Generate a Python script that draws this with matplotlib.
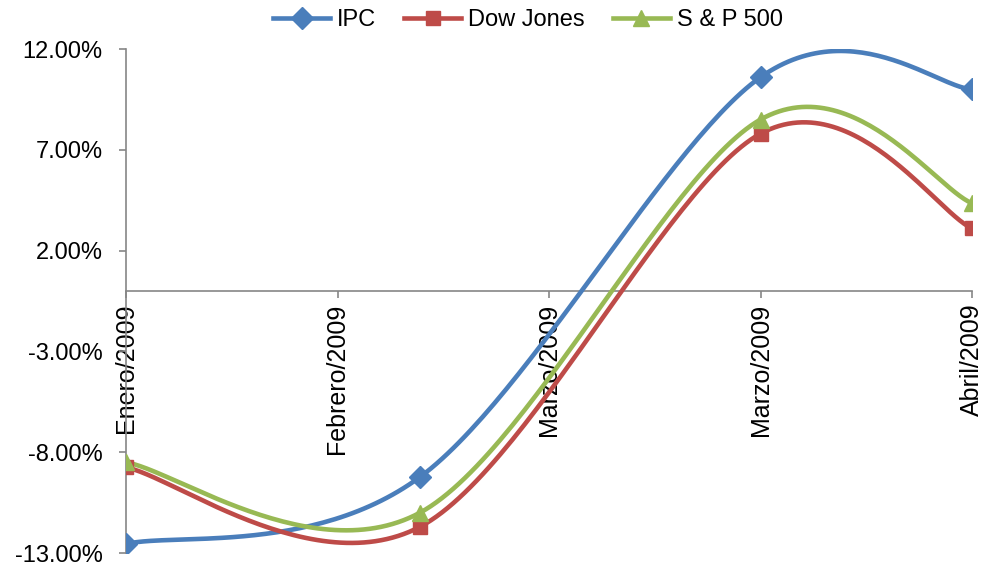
import matplotlib.pyplot as plt
import numpy as np

plt.rcParams['font.family'] = ['Liberation Sans', 'DejaVu Sans']

# category labels on the x axis
labels = ['Enero/2009', 'Febrero/2009', 'Marzo/2009', 'Marzo/2009', 'Abril/2009']

# x values of the data points (in category units), and the three series (%)
x_pts = [0, 1.39, 3, 4]
ipc = [-12.55, -9.23, 10.6, 10.0]
dow = [-8.75, -11.7, 7.8, 3.1]
sp500 = [-8.5, -11.0, 8.5, 4.35]


def smooth(xs, ys, n=60):
    # excel-like bezier smoothing
    p = np.column_stack([xs, ys]).astype(float)
    p = np.vstack([p[0], p, p[-1]])
    out = []
    t = np.linspace(0, 1, n)[:, None]
    for i in range(1, len(p) - 2):
        a, b = p[i], p[i + 1]
        c1 = a + (b - p[i - 1]) / 6
        c2 = b - (p[i + 2] - a) / 6
        seg = (1 - t) ** 3 * a + 3 * (1 - t) ** 2 * t * c1 + 3 * (1 - t) * t ** 2 * c2 + t ** 3 * b
        out.append(seg)
    out = np.vstack(out)
    return out[:, 0], out[:, 1]


fig = plt.figure(figsize=(10.05, 5.68), dpi=100)
ax = fig.add_axes([126 / 1005, 1 - 553 / 568, 846 / 1005, 504 / 568])

# spine position first: moving it resets the ticks
for s in ['top', 'right']:
    ax.spines[s].set_visible(False)
ax.spines['bottom'].set_position(('data', 0))
for s in ['left', 'bottom']:
    ax.spines[s].set_color('#868686')
    ax.spines[s].set_linewidth(1.2)

series = [('IPC', ipc, '#4A7EBB', 'D', 11),
          ('Dow Jones', dow, '#BE4B48', 's', 10.5),
          ('S & P 500', sp500, '#98B954', '^', 12)]
for name, vals, col, mk, ms in series:
    sx, sy = smooth(x_pts, vals)
    ax.plot(sx, sy, color=col, lw=3.3, zorder=3, solid_capstyle='round')
    ax.plot(x_pts, vals, linestyle='none', marker=mk, ms=ms, color=col, zorder=4)
    ax.plot([], [], color=col, lw=3.3, marker=mk, ms=ms, label=name)

ax.set_xlim(0, 4)
ax.set_ylim(-13, 12)
ax.set_yticks(np.arange(-13, 13, 5))
ax.set_yticklabels(['%.2f%%' % v for v in np.arange(-13, 13, 5)], fontsize=17)
ax.set_xticks(range(5))
ax.set_xticklabels(labels, rotation=90, fontsize=18, va='top', ha='center')

ax.tick_params(axis='y', direction='out', length=5, width=1.2, color='#868686', pad=12)
ax.tick_params(axis='x', direction='out', length=5, width=1.2, color='#868686', pad=4)

fig.legend(loc='center', bbox_to_anchor=(528 / 1005, 1 - 20 / 568), ncol=3, frameon=False,
           fontsize=17, handlelength=2.4, columnspacing=1.2, handletextpad=0.3)

fig.savefig('out.png')
